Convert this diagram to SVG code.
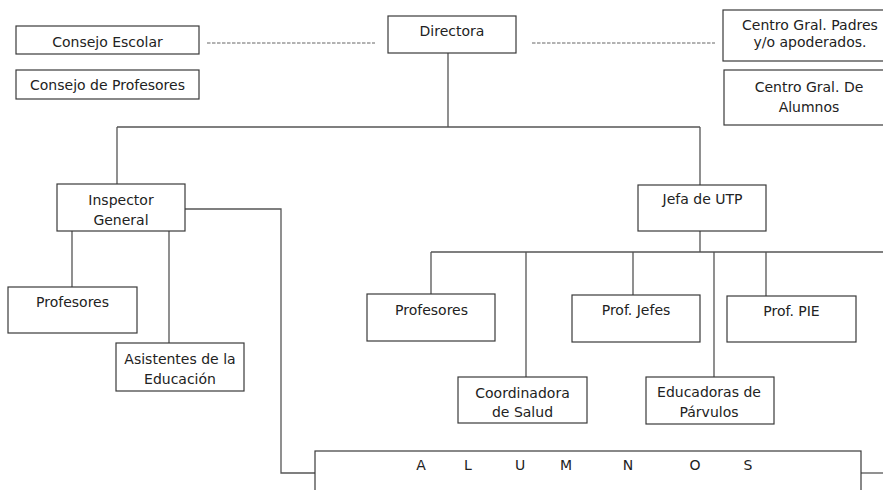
<svg xmlns="http://www.w3.org/2000/svg" width="883" height="490" viewBox="0 0 883 490">
<style>
.box{fill:#fff;stroke:#3a3a3a;stroke-width:1.2}
.t{font-family:"DejaVu Sans","Liberation Sans",sans-serif;font-size:14px;fill:#222;text-anchor:middle}
.c{fill:none;stroke:#555;stroke-width:1.3}
.d{fill:none;stroke:#666;stroke-width:1;stroke-dasharray:3.5,1.5}
</style>
<rect width="883" height="490" fill="#fff"/>
<g id="connectors">
<path class="c" d="M448,53V127M117,127H700M117,127V184M700,127V185"/>
<path class="c" d="M185,209H281V473H315"/>
<path class="c" d="M72,231V287M169,231V343"/>
<path class="c" d="M700,231V252M431,252H883M431,252V294M526,252V377M633,252V295M714,252V377M766,252V296"/>
<path class="c" d="M861,473H883"/>
<path class="d" d="M207,43H375M532,43H715"/>
</g>
<g id="consejo-escolar"><rect class="box" x="16" y="26" width="183" height="28"/><text class="t" x="107.5" y="46.5">Consejo Escolar</text></g>
<g id="consejo-profesores"><rect class="box" x="16" y="70" width="183" height="29"/><text class="t" x="107.5" y="90">Consejo de Profesores</text></g>
<g id="directora"><rect class="box" x="388" y="16" width="128" height="37"/><text class="t" x="452" y="36">Directora</text></g>
<g id="centro-padres"><rect class="box" x="723" y="10" width="170" height="51"/><text class="t" x="810" y="29.5">Centro Gral. Padres</text><text class="t" x="810" y="47">y/o apoderados.</text></g>
<g id="centro-alumnos"><rect class="box" x="724" y="70" width="170" height="55"/><text class="t" x="809" y="91.5">Centro Gral. De</text><text class="t" x="809" y="111.5">Alumnos</text></g>
<g id="inspector"><rect class="box" x="57" y="184" width="128" height="47"/><text class="t" x="121" y="205">Inspector</text><text class="t" x="121" y="225">General</text></g>
<g id="profesores-ig"><rect class="box" x="8" y="287" width="129" height="46"/><text class="t" x="72.5" y="306.5">Profesores</text></g>
<g id="asistentes"><rect class="box" x="116" y="343" width="128" height="48"/><text class="t" x="180" y="364">Asistentes de la</text><text class="t" x="180" y="384">Educación</text></g>
<g id="jefa-utp"><rect class="box" x="638" y="185" width="128" height="46"/><text class="t" x="702.5" y="204">Jefa de UTP</text></g>
<g id="profesores-utp"><rect class="box" x="367" y="294" width="128" height="47"/><text class="t" x="431.5" y="315">Profesores</text></g>
<g id="prof-jefes"><rect class="box" x="572" y="295" width="128" height="47"/><text class="t" x="636" y="315">Prof. Jefes</text></g>
<g id="prof-pie"><rect class="box" x="727" y="296" width="129" height="46"/><text class="t" x="791.5" y="316">Prof. PIE</text></g>
<g id="coordinadora"><rect class="box" x="458" y="377" width="129" height="46"/><text class="t" x="522.5" y="398">Coordinadora</text><text class="t" x="522.5" y="417">de Salud</text></g>
<g id="educadoras"><rect class="box" x="646" y="377" width="128" height="47"/><text class="t" x="709" y="397">Educadoras de</text><text class="t" x="709" y="417">Párvulos</text></g>
<g id="alumnos"><rect class="box" x="315" y="451" width="546" height="60"/><text class="t" y="470"><tspan x="421">A</tspan><tspan x="468">L</tspan><tspan x="520">U</tspan><tspan x="566">M</tspan><tspan x="628">N</tspan><tspan x="695">O</tspan><tspan x="748">S</tspan></text></g>
</svg>
